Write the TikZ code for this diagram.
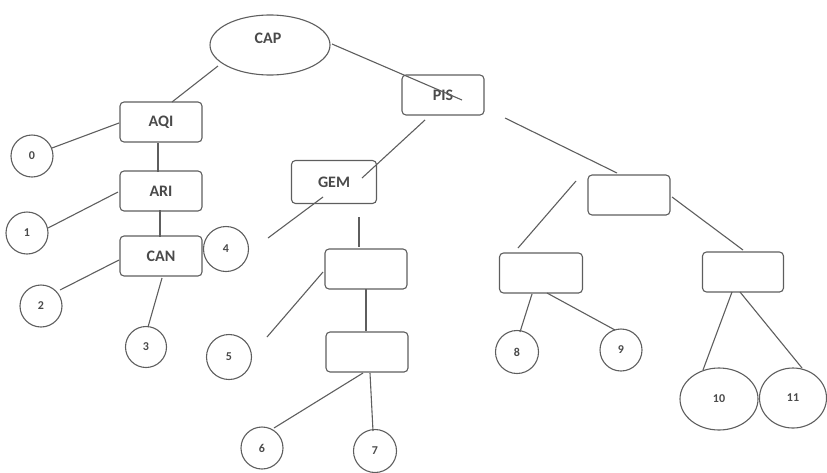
\documentclass[tikz,border=0pt]{standalone}
\usepackage{fontspec}
\setmainfont{Carlito}
\usetikzlibrary{shapes.geometric}
\definecolor{ink}{HTML}{5E5E5E}
\definecolor{txt}{HTML}{4A4A4A}
\tikzset{
  every node/.style={text=txt},
  boxnode/.style={draw=ink, line width=1.1pt, rounded corners=4pt, minimum width=82pt, minimum height=40pt, inner sep=0pt, font=\fontsize{16}{18}\selectfont\bfseries},
  circnode/.style={draw=ink, line width=1.1pt, circle, minimum size=42pt, inner sep=0pt, font=\fontsize{12}{14}\selectfont\bfseries},
  ellnode/.style={draw=ink, line width=1.1pt, ellipse, inner sep=0pt, font=\fontsize{12}{14}\selectfont\bfseries},
  labtext/.style={inner sep=0pt, font=\fontsize{16}{18}\selectfont\bfseries},
  edge/.style={draw=ink, line width=1.1pt}
}
\begin{document}
\begin{tikzpicture}[x=1pt,y=-1pt]
\useasboundingbox (0,0) rectangle (827,472);
% nodes
\node[ellnode, minimum width=120pt, minimum height=60pt] (cap) at (270,45) {};
\node[labtext] (captext) at (268,38) {CAP};
\node[boxnode] (pis) at (443,95) {PIS};
\node[boxnode] (aqi) at (161,122) {AQI};
\node[boxnode] (ari) at (161,191) {ARI};
\node[boxnode] (can) at (161,256) {CAN};
\node[boxnode, minimum width=85pt, minimum height=43pt] (gem) at (334,182) {GEM};
\node[boxnode] (bone) at (366,269) {};
\node[boxnode] (btwo) at (367,352) {};
\node[boxnode] (rbox) at (629,195) {};
\node[boxnode, minimum width=83pt] (beight) at (541,273) {};
\node[boxnode, minimum width=81pt] (cbox) at (743,272) {};
\node[circnode] (n0) at (32,156) {0};
\node[circnode] (n1) at (27,233) {1};
\node[circnode] (n2) at (41,306) {2};
\node[circnode, minimum size=41pt] (n3) at (146,347) {3};
\node[circnode, minimum size=45pt] (n4) at (226,249) {4};
\node[circnode, minimum size=45pt] (n5) at (229,357) {5};
\node[circnode] (n6) at (262,448) {6};
\node[circnode, minimum size=43pt] (n7) at (375,451) {7};
\node[circnode, minimum size=43pt] (n8) at (517,352) {8};
\node[circnode, minimum size=42pt] (n9) at (621,350) {9};
\node[ellnode, minimum width=78pt, minimum height=62pt] (n10) at (719,399) {10};
\node[ellnode, minimum width=67pt, minimum height=60pt] (n11) at (793,398) {11};
% connector end points
\coordinate (capA) at (218,66);   \coordinate (aqiA) at (172,102);
\coordinate (capB) at (332,44);   \coordinate (pisB) at (462,100);
\coordinate (zeroA) at (52,148);  \coordinate (aqiC) at (119,123);
\coordinate (aqiD) at (158,143);  \coordinate (ariD) at (158,172);
\coordinate (oneA) at (48,228);   \coordinate (ariE) at (118,192);
\coordinate (ariF) at (160,210);  \coordinate (canF) at (160,237);
\coordinate (twoA) at (60,290);   \coordinate (canG) at (119,260);
\coordinate (canH) at (162,278);  \coordinate (threeA) at (148,327);
\coordinate (pisI) at (425,120);  \coordinate (gemI) at (362,178);
\coordinate (gemJ) at (323,197);  \coordinate (fourA) at (268,238);
\coordinate (gemK) at (359,217);  \coordinate (boneK) at (359,247);
\coordinate (fiveA) at (267,337); \coordinate (boneL) at (323,272);
\coordinate (boneM) at (366,289); \coordinate (btwoM) at (366,331);
\coordinate (btwoN) at (363,373); \coordinate (sixA) at (274,428);
\coordinate (btwoO) at (370,373); \coordinate (sevenA) at (373,431);
\coordinate (pisP) at (505,118);  \coordinate (rboxP) at (617,173);
\coordinate (rboxQ) at (576,181); \coordinate (beightQ) at (518,248);
\coordinate (rboxR) at (672,197); \coordinate (cboxR) at (743,250);
\coordinate (beightS) at (532,294); \coordinate (eightA) at (520,332);
\coordinate (beightT) at (547,293); \coordinate (nineA) at (615,330);
\coordinate (cboxU) at (732,292); \coordinate (tenA) at (703,370);
\coordinate (cboxV) at (740,292); \coordinate (elevenA) at (802,368);
% connectors
\draw[edge] (capA) -- (aqiA);
\draw[edge] (capB) -- (pisB);
\draw[edge] (zeroA) -- (aqiC);
\draw[edge] (aqiD) -- (ariD);
\draw[edge] (oneA) -- (ariE);
\draw[edge] (ariF) -- (canF);
\draw[edge] (twoA) -- (canG);
\draw[edge] (canH) -- (threeA);
\draw[edge] (pisI) -- (gemI);
\draw[edge] (gemJ) -- (fourA);
\draw[edge] (gemK) -- (boneK);
\draw[edge] (fiveA) -- (boneL);
\draw[edge] (boneM) -- (btwoM);
\draw[edge] (btwoN) -- (sixA);
\draw[edge] (btwoO) -- (sevenA);
\draw[edge] (pisP) -- (rboxP);
\draw[edge] (rboxQ) -- (beightQ);
\draw[edge] (rboxR) -- (cboxR);
\draw[edge] (beightS) -- (eightA);
\draw[edge] (beightT) -- (nineA);
\draw[edge] (cboxU) -- (tenA);
\draw[edge] (cboxV) -- (elevenA);
\end{tikzpicture}
\end{document}
